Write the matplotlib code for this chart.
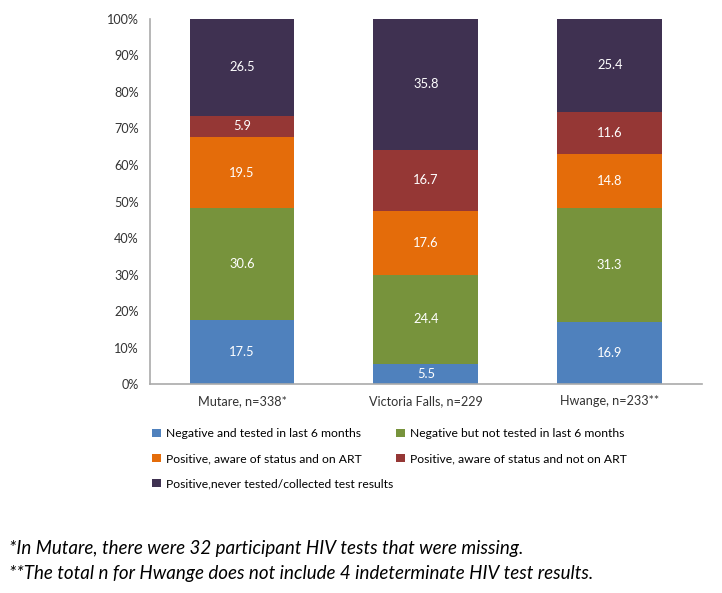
import matplotlib.pyplot as plt
import numpy as np

plt.rcParams['font.family'] = ['Lato', 'DejaVu Sans']

sites = ["Mutare, n=338*", "Victoria Falls, n=229", "Hwange, n=233**"]
categories = [
    "Negative and tested in last 6 months",
    "Negative but not tested in last 6 months",
    "Positive, aware of status and on ART",
    "Positive, aware of status and not on ART",
    "Positive,never tested/collected test results",
]
neg_tested = [17.5, 5.5, 16.9]
neg_not_tested = [30.6, 24.4, 31.3]
pos_on_art = [19.5, 17.6, 14.8]
pos_not_art = [5.9, 16.7, 11.6]
pos_never = [26.5, 35.8, 25.4]
colors = ["#4F81BD", "#77933C", "#E46C0A", "#953735", "#3F3151"]

series = [neg_tested, neg_not_tested, pos_on_art, pos_not_art, pos_never]

fig = plt.figure(figsize=(7.22, 5.93), dpi=100)
ax = fig.add_axes([0.2078, 0.3524, 0.764, 0.6156])

x = np.arange(len(sites))
bottom = np.zeros(len(sites))
bars = []
for vals, col, lab in zip(series, colors, categories):
    b = ax.bar(x, vals, 0.57, bottom=bottom, color=col, label=lab)
    for xi, v, bt in zip(x, vals, bottom):
        ax.text(xi, bt + v / 2, f"{v:.1f}", ha="center", va="center",
                color="white", fontsize=9.3)
    bottom += np.array(vals)
    bars.append(b)

ax.set_xlim(-0.5, 2.5)
ax.set_ylim(0, 100)
ax.set_yticks(np.arange(0, 101, 10))
ax.set_yticklabels([f"{t}%" for t in range(0, 101, 10)], fontsize=9.1, color="#333333")
ax.set_xticks(x)
ax.set_xticklabels(sites, fontsize=9.1, color="#333333")
ax.tick_params(length=0, pad=8)
for s in ["top", "right"]:
    ax.spines[s].set_visible(False)
for s in ["left", "bottom"]:
    ax.spines[s].set_color("#AAAAAA")
    ax.spines[s].set_linewidth(1.2)

order = [0, 2, 4, 1, 3]
fig.legend([bars[i] for i in order], [categories[i] for i in order],
           ncol=2, loc="upper left", bbox_to_anchor=(0.204, 0.286),
           frameon=False, fontsize=8.7, handlelength=0.7, handleheight=0.7,
           handletextpad=0.45, columnspacing=0.25, labelspacing=1.15,
           borderaxespad=0)

fig.text(0.012, 0.075, "*In Mutare, there were 32 participant HIV tests that were missing.",
         fontsize=13.5, style="italic", va="center")
fig.text(0.012, 0.033, "**The total n for Hwange does not include 4 indeterminate HIV test results.",
         fontsize=13.5, style="italic", va="center")

fig.savefig("out.png", dpi=100)
